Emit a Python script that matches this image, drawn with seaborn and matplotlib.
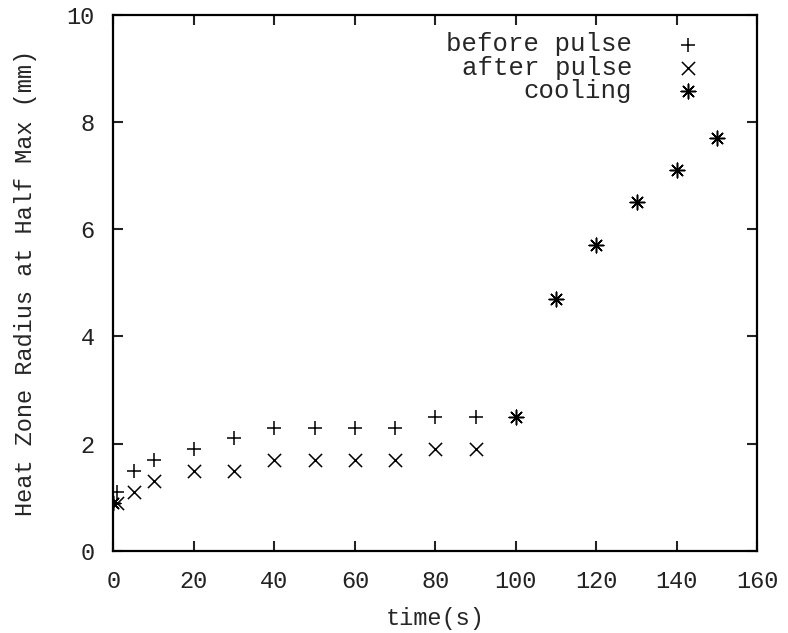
import numpy as np
import pandas as pd
import matplotlib
matplotlib.use("Agg")
import matplotlib.pyplot as plt
import seaborn as sns

# data
before_t = [1, 5, 10, 20, 30, 40, 50, 60, 70, 80, 90]
before_r = [1.1, 1.5, 1.7, 1.9, 2.1, 2.3, 2.3, 2.3, 2.3, 2.5, 2.5]

after_t = [1, 5, 10, 20, 30, 40, 50, 60, 70, 80, 90]
after_r = [0.9, 1.1, 1.3, 1.5, 1.5, 1.7, 1.7, 1.7, 1.7, 1.9, 1.9]

cool_t = [0, 100, 110, 120, 130, 140, 150]
cool_r = [0.9, 2.5, 4.7, 5.7, 6.5, 7.1, 7.7]

sns.set_style("ticks")
plt.rcParams['font.family'] = ['Liberation Mono', 'DejaVu Sans Mono']
plt.rcParams['font.size'] = 17

fig, ax = plt.subplots(figsize=(7.88, 6.33), dpi=100)
fig.subplots_adjust(left=0.144, right=0.961, bottom=0.1295, top=0.977)

# gnuplot style asterisk: + and x on top of each other
star = (8, 2, 0)

sns.scatterplot(x=before_t, y=before_r, marker='+', color='black', s=110,
                linewidth=1.1, label='before pulse', ax=ax)
sns.scatterplot(x=after_t, y=after_r, marker='x', color='black', s=90,
                linewidth=1.1, label='after pulse', ax=ax)
sns.scatterplot(x=cool_t, y=cool_r, marker=star, color='black', s=110,
                linewidth=1.1, label='cooling', ax=ax)

ax.set_xlim(0, 160)
ax.set_ylim(0, 10)
ax.set_xticks(np.arange(0, 161, 20))
ax.set_yticks(np.arange(0, 11, 2))
ax.tick_params(direction='in', length=7, width=1.5, top=True, right=True,
               labelsize=17, colors='#222222', pad=13.5)
for sp in ax.spines.values():
    sp.set_linewidth(1.6)
    sp.set_color('black')

ax.set_xlabel("time(s)", fontsize=17, labelpad=10)
ax.set_ylabel("Heat Zone Radius at Half Max (mm)", fontsize=17, labelpad=21)

ax.legend(loc='upper right', bbox_to_anchor=(0.9285, 0.986), borderaxespad=0,
          markerfirst=False, frameon=False, handlelength=1.0,
          handletextpad=1.67, labelspacing=-0.03, fontsize=18.5)

plt.savefig("out.png", dpi=100)
